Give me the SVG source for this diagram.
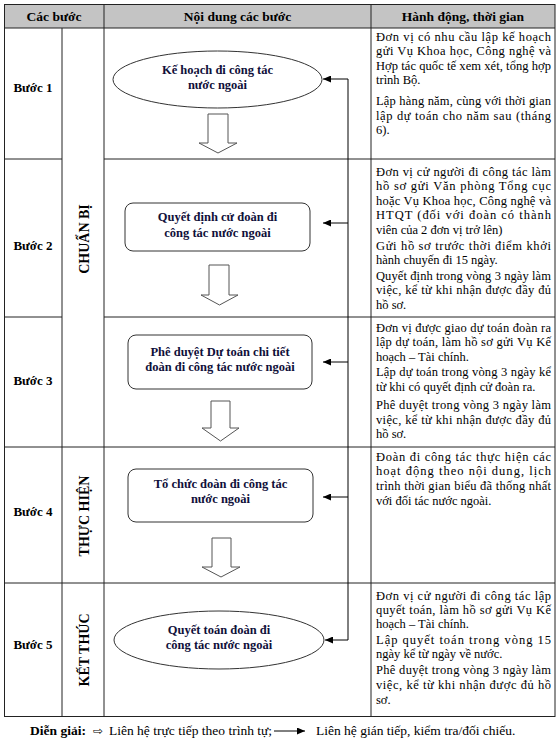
<svg xmlns="http://www.w3.org/2000/svg" width="559" height="742" viewBox="0 0 559 742" font-family="Liberation Serif, serif">
<defs>
<marker id="ah" markerUnits="userSpaceOnUse" markerWidth="9" markerHeight="7" refX="8" refY="3.5" orient="auto">
<path d="M0,0 L8,3.5 L0,7 z" fill="#000"/>
</marker>
<style>
.t{fill:#000}
.hd{font-size:13.5px;font-weight:bold;text-anchor:middle}
.st{font-size:13px;font-weight:bold;text-anchor:middle}
.ph{font-size:14px;font-weight:bold;text-anchor:middle}
.nd{font-size:12.5px;font-weight:bold;text-anchor:middle;fill:#10103a}
.r{font-size:12.5px}
.g{fill:none;stroke:#222;stroke-width:1}
.ln{stroke:#222;stroke-width:1;fill:none}
.node{fill:#fff;stroke:#333;stroke-width:1}
.blk{fill:#fff;stroke:#555;stroke-width:1}
.con{stroke:#000;stroke-width:1;fill:none}
</style>
</defs>
<rect width="559" height="742" fill="#fff"/>
<g id="table">
<rect x="4.5" y="4.5" width="550.5" height="23.5" fill="#c4c4c4"/>
<rect x="4.5" y="4.5" width="550.5" height="712" class="g" stroke-width="1.5"/>
<line x1="4.5" y1="28" x2="555" y2="28" class="ln"/>
<line x1="62" y1="28" x2="62" y2="716.5" class="ln"/>
<line x1="104" y1="4.5" x2="104" y2="716.5" class="ln"/>
<line x1="371" y1="4.5" x2="371" y2="716.5" class="ln"/>
<line x1="4.5" y1="159" x2="62" y2="159" class="ln"/>
<line x1="104" y1="159" x2="555" y2="159" class="ln"/>
<line x1="4.5" y1="317" x2="62" y2="317" class="ln"/>
<line x1="104" y1="317" x2="555" y2="317" class="ln"/>
<line x1="4.5" y1="447" x2="555" y2="447" class="ln"/>
<line x1="4.5" y1="583" x2="555" y2="583" class="ln"/>
<text class="t hd" x="54" y="21">Các bước</text>
<text class="t hd" x="237.5" y="21">Nội dung các bước</text>
<text class="t hd" x="463" y="21">Hành động, thời gian</text>
<text class="t st" x="33" y="92">Bước 1</text>
<text class="t st" x="33" y="250">Bước 2</text>
<text class="t st" x="33" y="385">Bước 3</text>
<text class="t st" x="33" y="516">Bước 4</text>
<text class="t st" x="33" y="649">Bước 5</text>
<text class="t ph" transform="translate(89,239) rotate(-90)">CHUẨN BỊ</text>
<text class="t ph" transform="translate(89,516) rotate(-90)">THỰC HIỆN</text>
<text class="t ph" transform="translate(89,650) rotate(-90)">KẾT THÚC</text>
</g>
<g id="actions" class="t r">
<text x="376" y="41" textLength="175" lengthAdjust="spacing">Đơn vị có nhu cầu lập kế hoạch</text>
<text x="376" y="55" textLength="175" lengthAdjust="spacing">gửi Vụ Khoa học, Công nghệ và</text>
<text x="376" y="70" textLength="175" lengthAdjust="spacing">Hợp tác quốc tế xem xét, tổng hợp</text>
<text x="376" y="84">trình Bộ.</text>
<text x="376" y="105" textLength="175" lengthAdjust="spacing">Lập hàng năm, cùng với thời gian</text>
<text x="376" y="120" textLength="175" lengthAdjust="spacing">lập dự toán cho năm sau (tháng</text>
<text x="376" y="134">6).</text>

<text x="376" y="176" textLength="175" lengthAdjust="spacing">Đơn vị cử người đi công tác làm</text>
<text x="376" y="190" textLength="175" lengthAdjust="spacing">hồ sơ gửi Văn phòng Tổng cục</text>
<text x="376" y="205" textLength="175" lengthAdjust="spacing">hoặc Vụ Khoa học, Công nghệ và</text>
<text x="376" y="219" textLength="175" lengthAdjust="spacing">HTQT (đối với đoàn có thành</text>
<text x="376" y="234">viên của 2 đơn vị trở lên)</text>
<text x="376" y="250" textLength="175" lengthAdjust="spacing">Gửi hồ sơ trước thời điểm khởi</text>
<text x="376" y="264">hành chuyến đi 15 ngày.</text>
<text x="376" y="280" textLength="175" lengthAdjust="spacing">Quyết định trong vòng 3 ngày làm</text>
<text x="376" y="294" textLength="175" lengthAdjust="spacing">việc, kể từ khi nhận được đầy đủ</text>
<text x="376" y="309">hồ sơ.</text>

<text x="376" y="332" textLength="175" lengthAdjust="spacing">Đơn vị được giao dự toán đoàn ra</text>
<text x="376" y="346" textLength="175" lengthAdjust="spacing">lập dự toán, làm hồ sơ gửi Vụ Kế</text>
<text x="376" y="361">hoạch – Tài chính.</text>
<text x="376" y="376" textLength="175" lengthAdjust="spacing">Lập dự toán trong vòng 3 ngày kể</text>
<text x="376" y="391">từ khi có quyết định cử đoàn ra.</text>
<text x="376" y="409" textLength="175" lengthAdjust="spacing">Phê duyệt trong vòng 3 ngày làm</text>
<text x="376" y="424" textLength="175" lengthAdjust="spacing">việc, kể từ khi nhận được đầy đủ</text>
<text x="376" y="438">hồ sơ.</text>

<text x="376" y="461" textLength="175" lengthAdjust="spacing">Đoàn đi công tác thực hiện các</text>
<text x="376" y="475" textLength="175" lengthAdjust="spacing">hoạt động theo nội dung, lịch</text>
<text x="376" y="490" textLength="175" lengthAdjust="spacing">trình thời gian biểu đã thống nhất</text>
<text x="376" y="505">với đối tác nước ngoài.</text>

<text x="376" y="600" textLength="175" lengthAdjust="spacing">Đơn vị cử người đi công tác lập</text>
<text x="376" y="614" textLength="175" lengthAdjust="spacing">quyết toán, làm hồ sơ gửi Vụ Kế</text>
<text x="376" y="628">hoạch – Tài chính.</text>
<text x="376" y="644" textLength="175" lengthAdjust="spacing">Lập quyết toán trong vòng 15</text>
<text x="376" y="658">ngày kể từ ngày về nước.</text>
<text x="376" y="674" textLength="175" lengthAdjust="spacing">Phê duyệt trong vòng 3 ngày làm</text>
<text x="376" y="689" textLength="175" lengthAdjust="spacing">việc, kể từ khi nhận được đủ hồ</text>
<text x="376" y="704">sơ.</text>
</g>
<g id="node1">
<ellipse cx="217.5" cy="79.5" rx="104.5" ry="28.5" class="node"/>
<text class="t nd" x="217.5" y="74">Kế hoạch đi công tác</text>
<text class="t nd" x="217.5" y="89">nước ngoài</text>
</g>
<g id="node2">
<rect x="125" y="203" width="185" height="48" rx="8" class="node"/>
<text class="t nd" x="217.5" y="221">Quyết định cử đoàn đi</text>
<text class="t nd" x="217.5" y="237">công tác nước ngoài</text>
</g>
<g id="node3">
<rect x="128" y="335" width="184" height="54" rx="8" class="node"/>
<text class="t nd" x="220" y="356">Phê duyệt Dự toán chi tiết</text>
<text class="t nd" x="220" y="371">đoàn đi công tác nước ngoài</text>
</g>
<g id="node4">
<rect x="128" y="469" width="185" height="53" rx="8" class="node"/>
<text class="t nd" x="220.5" y="488">Tổ chức đoàn đi công tác</text>
<text class="t nd" x="220.5" y="503">nước ngoài</text>
</g>
<g id="node5">
<ellipse cx="219" cy="640" rx="105" ry="29" class="node"/>
<text class="t nd" x="219" y="634">Quyết toán đoàn đi</text>
<text class="t nd" x="219" y="649">công tác nước ngoài</text>
</g>
<g id="connectors">
<path class="blk" d="M208,114 H228 V143 H237 L218,153 L199,143 H208 Z"/>
<path class="blk" d="M209,265 H229 V295 H238 L219.5,305 L201,295 H209 Z"/>
<path class="blk" d="M211,401 H230 V428 H239 L220.5,441 L202,428 H211 Z"/>
<path class="blk" d="M212,538 H231 V567 H240 L221,577 L202,567 H212 Z"/>
<path class="con" d="M348,79 V640"/>
<path class="con" d="M348,79 H323" marker-end="url(#ah)"/>
<path class="con" d="M348,223 H323" marker-end="url(#ah)"/>
<path class="con" d="M348,362 H323" marker-end="url(#ah)"/>
<path class="con" d="M348,497 H323" marker-end="url(#ah)"/>
<path class="con" d="M348,640 H325" marker-end="url(#ah)"/>
</g>
<g id="legend">
<text class="t" x="30" y="735" font-size="13.5" font-weight="bold">Diễn giải:</text>
<text x="93" y="735" font-size="12" font-family="DejaVu Sans, sans-serif">⇨</text>
<text class="t" x="109" y="735" font-size="13.5">Liên hệ trực tiếp theo trình tự;</text>
<path class="con" d="M274,731 H305" marker-end="url(#ah)"/>
<text class="t" x="316" y="735" font-size="13.5">Liên hệ gián tiếp, kiểm tra/đối chiếu.</text>
</g>
</svg>
